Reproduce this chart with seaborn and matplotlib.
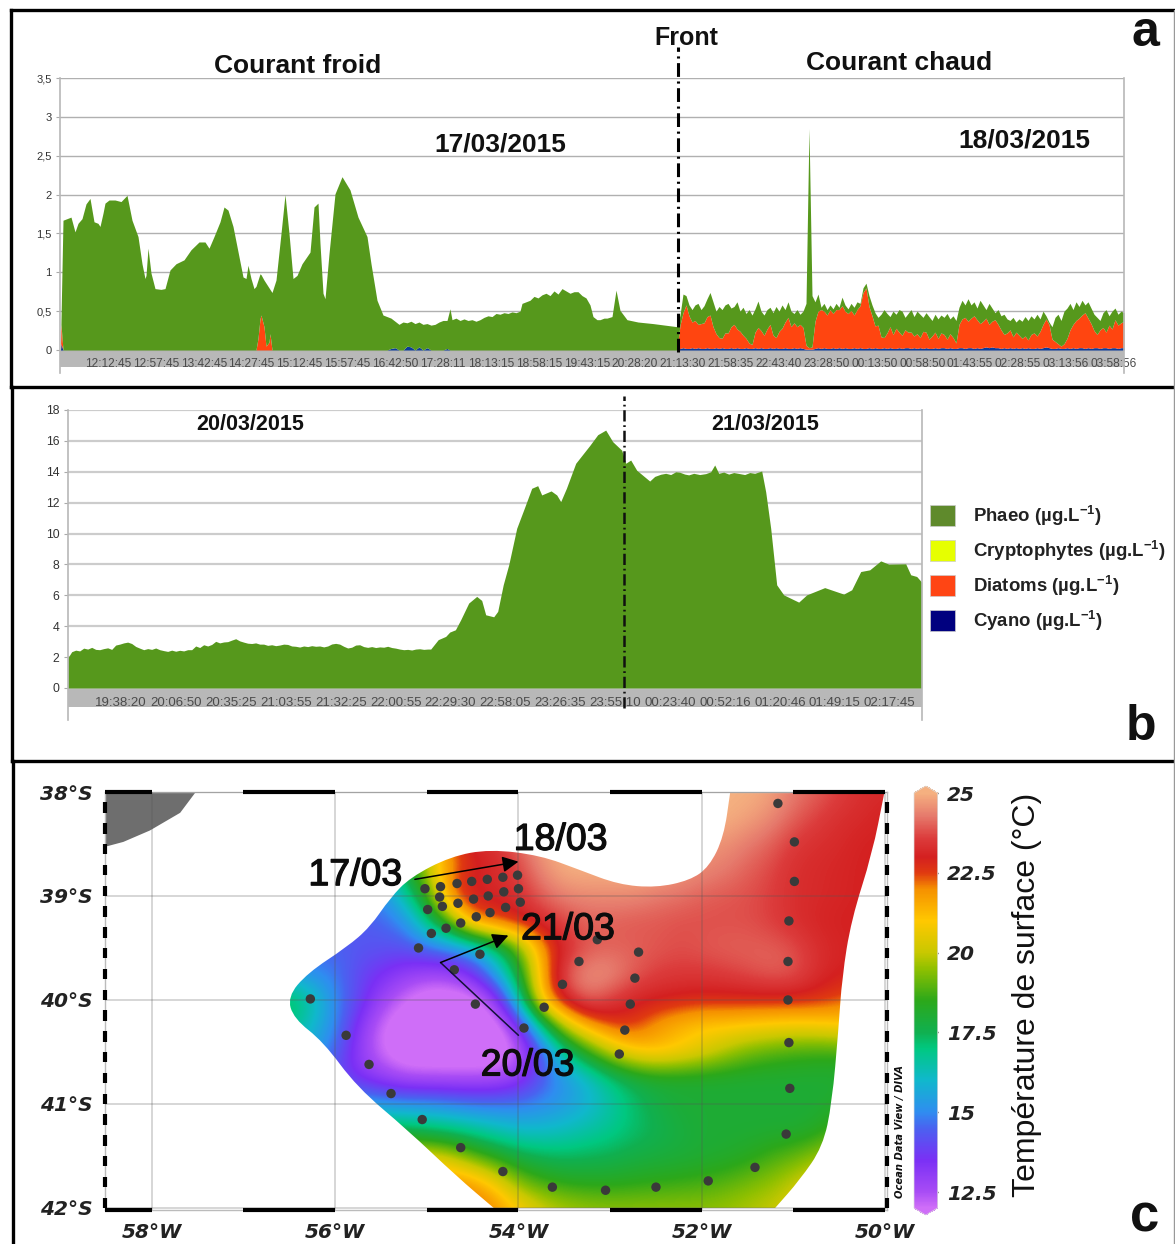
import numpy as np
import seaborn as sns
import matplotlib
matplotlib.use("Agg")
import matplotlib.pyplot as plt
import matplotlib.patheffects as pe
from matplotlib.colors import LinearSegmentedColormap, Normalize
from matplotlib.lines import Line2D
from matplotlib.patches import Patch, PathPatch, Polygon
from matplotlib.path import Path
import pandas as pd

# --- panel a : cold side (sample number, top of the stack)
cold_samples = [0.5, 1, 3, 7, 11, 15, 18, 22, 26, 30, 34, 38, 40, 43, 45, 49, 55, 61, 67, 72, 78, 82, 85, 86, 88, 91,
                95, 101, 105, 110, 116, 124, 131, 139, 145, 149, 154, 160, 164, 168, 173, 179, 183, 186, 188, 191,
                194, 196, 198, 200, 201, 204, 206, 209, 210, 212, 216, 221, 225, 229, 233, 237, 242, 250, 254, 258,
                260, 263, 265, 269, 275, 282, 290, 298, 307, 311, 317,
                323, 327, 331, 335, 339, 343, 347, 351, 355, 359, 363, 367, 371, 375, 379, 383, 387, 390, 392, 396,
                400, 404, 408, 412, 416, 420, 424, 428, 432, 436, 440, 444, 448, 452, 456, 460, 462, 466, 470, 474,
                478, 482, 486, 490, 494, 498, 502, 506, 510, 514, 518, 522, 526, 530, 533, 537, 540, 544, 547,
                552, 556, 560, 567, 578, 593, 605, 617]
cold_total = [0, 0.39, 1.67, 1.69, 1.71, 1.52, 1.63, 1.69, 1.88, 1.95, 1.65, 1.63, 1.59, 1.76, 1.89, 1.93, 1.93, 1.91,
              1.99, 1.67, 1.46, 1.11, 0.92, 0.96, 1.31, 0.99, 0.79, 0.78, 0.79, 1.03, 1.11, 1.16, 1.29, 1.39, 1.39,
              1.31, 1.46, 1.65, 1.84, 1.80, 1.59, 1.20, 0.94, 0.92, 1.09, 0.92, 0.79, 0.82, 0.90, 0.98, 0.97, 0.90,
              0.86, 0.80, 0.78, 0.74, 0.90, 1.50, 2.00, 1.50, 0.92, 0.96, 1.11, 1.26, 1.84, 1.89, 1.37, 0.73, 0.66,
              1.24, 2.01, 2.23, 2.06, 1.71, 1.46, 1.11, 0.64,
              0.45, 0.43, 0.41, 0.37, 0.33, 0.36, 0.35, 0.37, 0.34, 0.36, 0.33, 0.34, 0.32, 0.33, 0.36, 0.38, 0.38, 0.53,
              0.39, 0.41, 0.38, 0.40, 0.38, 0.39, 0.37, 0.39, 0.42, 0.44, 0.43, 0.47, 0.46, 0.48, 0.47, 0.49, 0.48, 0.50,
              0.60, 0.62, 0.64, 0.69, 0.67, 0.71, 0.73, 0.70, 0.76, 0.72, 0.79, 0.76, 0.73, 0.75, 0.75, 0.70, 0.67, 0.58,
              0.43, 0.39, 0.39, 0.41, 0.41,
              0.43, 0.77, 0.51, 0.39, 0.36, 0.34, 0.32, 0.30]
cold_diatom_samples = [1, 198, 200, 201, 204, 206, 209, 210]
cold_diatom_values = [0.25, 0.15, 0.40, 0.45, 0.30, 0.05, 0.10, 0.21]
cold_cyano_samples = [1, 331, 335, 347, 351, 359, 367, 387]
cold_cyano_values = [0.08, 0.02, 0.03, 0.05, 0.04, 0.04, 0.03, 0.02]

# --- panel a : warm side, one reading every 3 samples from sample 620
warm_total = [0.45, 0.72, 0.70, 0.58, 0.52, 0.58, 0.60, 0.52, 0.57, 0.66, 0.74, 0.62, 0.50, 0.56, 0.52, 0.58, 0.60,
              0.54, 0.56, 0.62, 0.50, 0.55, 0.47, 0.52, 0.45, 0.53, 0.63, 0.50, 0.45, 0.52, 0.55, 0.48, 0.56, 0.50,
              0.58, 0.52, 0.62, 0.50, 0.47, 0.52, 0.46, 0.50, 0.60, 2.85, 0.70, 0.62, 0.72, 0.55, 0.60, 0.52, 0.58,
              0.53, 0.60, 0.55, 0.68, 0.58, 0.53, 0.60, 0.55, 0.62, 0.60, 0.80, 0.86, 0.70, 0.58, 0.48, 0.42, 0.46,
              0.52, 0.47, 0.43, 0.50, 0.46, 0.52, 0.50, 0.42, 0.47, 0.52, 0.43, 0.50, 0.46, 0.42, 0.48, 0.43, 0.38,
              0.46, 0.40, 0.45, 0.42, 0.47, 0.40, 0.44, 0.38, 0.55, 0.64, 0.58, 0.66, 0.58, 0.62, 0.54, 0.64, 0.58,
              0.52, 0.60, 0.54, 0.48, 0.52, 0.44, 0.46, 0.40, 0.38, 0.42, 0.36, 0.40, 0.37, 0.43, 0.38, 0.44, 0.40,
              0.46, 0.40, 0.50, 0.44, 0.36, 0.30, 0.42, 0.46, 0.38, 0.50, 0.54, 0.60, 0.52, 0.62, 0.56, 0.64, 0.58,
              0.62, 0.54, 0.46, 0.42, 0.38, 0.48, 0.52, 0.44, 0.50, 0.54, 0.46, 0.50, 0.48]
warm_diatoms = [0.30, 0.45, 0.56, 0.42, 0.33, 0.36, 0.30, 0.32, 0.33, 0.40, 0.43, 0.28, 0.18, 0.14, 0.12, 0.20, 0.20,
                0.27, 0.31, 0.24, 0.22, 0.17, 0.12, 0.07, 0.05, 0.20, 0.27, 0.22, 0.17, 0.25, 0.30, 0.17, 0.13, 0.22,
                0.26, 0.33, 0.40, 0.28, 0.32, 0.28, 0.30, 0.27, 0.05, 0.02, 0.03, 0.35, 0.47, 0.50, 0.47, 0.43, 0.50,
                0.44, 0.50, 0.49, 0.55, 0.47, 0.45, 0.49, 0.42, 0.50, 0.54, 0.72, 0.78, 0.53, 0.42, 0.28, 0.30, 0.15,
                0.13, 0.20, 0.27, 0.18, 0.26, 0.20, 0.17, 0.23, 0.20, 0.21, 0.15, 0.19, 0.13, 0.22, 0.20, 0.12, 0.16,
                0.20, 0.13, 0.19, 0.17, 0.12, 0.18, 0.14, 0.07, 0.30, 0.37, 0.40, 0.34, 0.38, 0.42, 0.36, 0.32, 0.34,
                0.37, 0.30, 0.33, 0.36, 0.30, 0.24, 0.17, 0.20, 0.23, 0.15, 0.20, 0.17, 0.12, 0.16, 0.10, 0.18, 0.20,
                0.15, 0.22, 0.30, 0.36, 0.30, 0.12, 0.09, 0.05, 0.03, 0.06, 0.12, 0.24, 0.30, 0.36, 0.38, 0.42, 0.46,
                0.38, 0.32, 0.22, 0.17, 0.24, 0.26, 0.20, 0.30, 0.24, 0.36, 0.30, 0.32, 0.34]
warm_cyano = [0.02, 0.03, 0.02, 0.02, 0.03, 0.02, 0.03, 0.02, 0.02, 0.03, 0.02, 0.02, 0.03, 0.02, 0.03, 0.02, 0.02,
              0.03, 0.02, 0.03, 0.02, 0.02, 0.03, 0.02, 0.02, 0.03, 0.02, 0.03, 0.02, 0.02, 0.03, 0.02, 0.03, 0.02,
              0.02, 0.03, 0.02, 0.02, 0.03, 0.02, 0.03, 0.02, 0.01, 0.01, 0.01, 0.02, 0.03, 0.02, 0.03, 0.02, 0.02,
              0.03, 0.02, 0.03, 0.02, 0.03, 0.02, 0.02, 0.03, 0.02, 0.03, 0.02, 0.02, 0.03, 0.02, 0.03, 0.02, 0.02,
              0.03, 0.02, 0.03, 0.02, 0.02, 0.03, 0.02, 0.03, 0.03, 0.02, 0.03, 0.02, 0.03, 0.02, 0.03, 0.02, 0.02,
              0.03, 0.02, 0.03, 0.03, 0.02, 0.03, 0.02, 0.02, 0.03, 0.03, 0.02, 0.03, 0.03, 0.02, 0.03, 0.02, 0.03,
              0.04, 0.03, 0.04, 0.03, 0.03, 0.02, 0.03, 0.02, 0.03, 0.02, 0.03, 0.02, 0.03, 0.02, 0.03, 0.02, 0.02,
              0.03, 0.02, 0.03, 0.04, 0.03, 0.02, 0.02, 0.03, 0.02, 0.02, 0.03, 0.02, 0.03, 0.02, 0.03, 0.03, 0.02,
              0.03, 0.02, 0.03, 0.03, 0.02, 0.03, 0.03, 0.02, 0.03, 0.03, 0.02, 0.03, 0.03]
ticks_a = ["12:12:45", "12:57:45", "13:42:45", "14:27:45", "15:12:45", "15:57:45", "16:42:50", "17:28:11", "18:13:15",
           "18:58:15", "19:43:15", "20:28:20", "21:13:30", "21:58:35", "22:43:40", "23:28:50", "00:13:50", "00:58:50",
           "01:43:55", "02:28:55", "03:13:56", "03:58:56"]
yticks_a = [0, 0.5, 1, 1.5, 2, 2.5, 3, 3.5]
ylabels_a = ["0", "0,5", "1", "1,5", "2", "2,5", "3", "3,5"]

# --- panel b
b_samples = [0, 4, 8, 12, 16, 20, 24, 28, 32, 36, 40, 44, 48, 52, 56, 60, 64, 68, 72, 76, 80, 84, 88, 92, 96, 100, 104,
             108, 112, 116, 120, 124, 128, 132, 136, 140, 144, 148, 152, 156, 160, 164, 168, 172, 176, 180, 184, 188,
             192, 196, 200, 204, 208, 212, 216, 220, 224, 228, 232, 236, 240, 244, 248, 252, 256, 260, 264, 268, 272,
             276, 280, 284, 288, 292, 296, 300, 304, 308, 312, 316, 320, 324, 328, 332, 336, 340, 344, 348, 352, 356,
             360, 363, 370.5, 378, 382, 387.7, 393, 401, 409, 414, 418, 426, 430, 435.5, 441, 449, 456.6, 464, 470, 474,
             483.4, 489, 493, 498.7, 508, 522, 530, 538, 545, 554, 558, 563, 569, 582, 587, 593, 598, 603, 608, 612, 617,
             621, 626, 632, 638, 643, 647, 651, 656, 661, 666, 672, 677, 682, 687, 694, 698, 703, 709, 716, 731, 739,
             757, 776, 784, 793, 802, 813, 821, 838, 843, 849, 854]
b_phaeo = [1.94, 2.35, 2.45, 2.40, 2.58, 2.52, 2.63, 2.50, 2.48, 2.55, 2.60, 2.50, 2.78, 2.84, 2.92, 2.97, 2.88, 2.69,
           2.58, 2.48, 2.55, 2.50, 2.59, 2.48, 2.42, 2.37, 2.45, 2.38, 2.44, 2.40, 2.48, 2.48, 2.72, 2.62, 2.80, 2.72,
           2.82, 3.02, 2.92, 2.98, 3.00, 3.10, 3.19, 3.05, 2.97, 2.90, 2.88, 2.92, 2.84, 2.84, 2.76, 2.80, 2.74, 2.78,
           2.84, 2.82, 2.72, 2.70, 2.65, 2.72, 2.68, 2.74, 2.70, 2.72, 2.66, 2.72, 2.85, 2.89, 2.84, 2.70, 2.59, 2.64,
           2.78, 2.80, 2.68, 2.63, 2.68, 2.62, 2.66, 2.64, 2.70, 2.62, 2.58, 2.52, 2.48, 2.50, 2.46, 2.52, 2.54, 2.50,
           2.52, 2.52, 3.13, 3.34, 3.62, 3.77, 4.42, 5.50, 5.93, 5.67, 4.74, 4.61, 4.96, 6.68, 7.97, 10.34, 11.64, 12.93,
           13.10, 12.50, 12.76, 12.50, 12.07, 12.93, 14.55, 15.70, 16.40, 16.70, 15.95, 15.40, 14.55, 14.76, 14.10,
           13.40, 13.70, 13.84, 13.90, 13.82, 14.00, 13.97, 13.85, 13.80, 13.90, 13.82, 13.88, 14.00, 14.44, 13.90,
           13.98, 13.85, 13.95, 13.88, 13.82, 13.95, 13.90, 14.05, 12.70, 10.34, 6.68, 6.03, 5.56, 6.03, 6.50, 6.08,
           6.36, 7.54, 7.65, 8.23, 8.02, 8.04, 7.33, 7.22, 6.85]
ticks_b = ["19:38:20", "20:06:50", "20:35:25", "21:03:55", "21:32:25", "22:00:55", "22:29:30", "22:58:05", "23:26:35",
           "23:55:10", "00:23:40", "00:52:16", "01:20:46", "01:49:15", "02:17:45"]
yticks_b = [0, 2, 4, 6, 8, 10, 12, 14, 16, 18]

legend_labels = [r"Phaeo (µg.L$^{\mathbf{-1}}$)", r"Cryptophytes (µg.L$^{\mathbf{-1}}$)",
                 r"Diatoms (µg.L$^{\mathbf{-1}}$)", r"Cyano (µg.L$^{\mathbf{-1}}$)"]
legend_colors = ["#5f8a2c", "#e6ff00", "#ff4514", "#00007f"]

# --- panel c : surface temperature
lons = [-56.5 + 0.25 * i for i in range(27)]
lats = [-38 - 0.25 * i for i in range(17)]
temperature = [
    [25] * 18 + [25, 25, 25, 24.8, 24.3, 24, 23.6, 23.3, 23.2],
    [25] * 18 + [25, 25, 24.8, 24.5, 24, 23.6, 23.3, 23.2, 23],
    [18] * 6 + [20, 22, 23, 23.2, 24, 24.8, 25, 25, 25, 25, 25, 25, 24.6, 24.6, 24.3, 24, 23.5, 23.3, 23.2, 23, 23],
    [16] * 5 + [17.5, 20, 22, 23, 23.2, 23.7, 24.5, 25, 25, 25, 25, 24.9, 24.7, 24.5, 24.3, 24, 23.7, 23.3, 23.2, 23.1, 23, 23],
    [14, 14.5, 14.8, 14.8, 15, 16.5, 18.5, 22.3, 23.1, 23.1, 23.3, 24, 24.4, 24.5, 24.5, 24.5, 24.3, 24.2, 24, 23.9, 23.8, 23.6, 23.3, 23.2, 23.1, 23, 23],
    [14, 14, 14.2, 14.3, 14.5, 15, 17, 19, 22, 22.6, 23, 23.3, 23.7, 24, 24, 23.9, 23.9, 23.8, 23.8, 23.8, 23.8, 23.6, 23.3, 23.1, 23, 23, 23],
    [14.5, 14.5, 14.5, 14.3, 14.2, 14.2, 14.6, 15, 15.5, 17, 19, 21.8, 23.2, 23.9, 24, 24, 23.9, 23.8, 23.9, 24, 24, 24, 23.8, 23.3, 23.1, 23, 23],
    [15.5, 15, 14.8, 14, 13.5, 13, 12.7, 12.7, 13.6, 15.5, 18, 21.5, 24, 24.6, 24.6, 24, 23.6, 23.5, 23.5, 23.6, 23.8, 24, 23.9, 23.3, 23, 23, 23],
    [17.5, 16.5, 15, 14, 12.8, 12, 11.5, 11.5, 11.5, 12.8, 16.5, 21.5, 23.3, 24.2, 23.6, 23.1, 23, 22.9, 22.8, 22.8, 22.8, 22.8, 22.8, 22.7, 22.4, 22, 22],
    [17, 16, 15, 13.3, 12, 11.5, 11.5, 11.5, 11.5, 11.5, 13.2, 17, 20, 21.6, 22.5, 22.6, 21.8, 21.3, 21, 21, 20.9, 20.8, 20.7, 20.8, 21, 21.2, 21],
    [16, 15.5, 14.5, 13, 12, 11.5, 11.5, 11.5, 11.5, 11.5, 12, 14.3, 16.8, 18.5, 20, 21, 21.3, 21, 20.5, 19.8, 19.2, 18.9, 18.7, 18.6, 18.6, 18.8, 19],
    [15, 14.5, 14, 13.4, 12.9, 12.4, 12.3, 12.3, 12.3, 12.4, 13, 14.3, 15.2, 16, 17, 17.7, 18, 18, 18, 18, 18, 18, 18, 18, 18, 18, 18],
    [15.5, 15.5, 15.5, 15.5, 15.3, 15.2, 15.2, 15, 14.8, 14.8, 14.8, 15, 15.3, 15.8, 16.5, 17.2, 17.7, 18, 18, 18, 18, 18, 18, 18, 18.2, 18.5, 19],
    [17.5] * 5 + [17.5, 17.2, 17, 16.7, 16.3, 16, 16, 16.2, 16.5, 16.8, 17.2, 17.5, 17.8, 18, 18, 18, 18, 18, 18.2, 18.8, 19, 19.5],
    [20.5] * 6 + [20.5, 20, 19, 18.3, 17.7, 17.4, 17.3, 17.4, 17.5, 17.7, 17.8, 17.9, 18, 18.1, 18.3, 18.7, 19, 19.5, 20, 20, 20],
    [22] * 6 + [22, 22, 21.7, 20.7, 19.3, 18.7, 18.4, 18.3, 18.3, 18.4, 18.5, 18.6, 18.7, 18.9, 19.2, 19.5, 20, 20.5, 20.5, 20.5, 20.5],
    [22.5] * 8 + [22.5, 22, 21, 20.2, 19.8, 19.6, 19.5, 19.5, 19.5, 19.5, 19.5, 19.6, 19.8, 20, 20.3, 20.5, 20.5, 20.5, 20.5],
]
field_lon = [-51.69, -51.76, -51.92, -52.13, -52.50, -52.91, -53.33, -53.76, -54.31, -54.74, -55.18, -55.40, -55.62,
             -55.87, -56.30, -56.52, -56.45, -56.13, -55.76, -55.21, -54.67, -54.27, -51.20, -50.93, -50.68, -50.58,
             -50.51, -50.47, -50.37, -50.14, -50.01]
field_lat = [-38, -38.43, -38.72, -38.85, -38.92, -38.89, -38.75, -38.61, -38.55, -38.62, -38.82, -39.02, -39.30, -39.49,
             -39.74, -39.97, -40.18, -40.40, -40.84, -41.25, -41.70, -42, -42, -41.73, -41.41, -40.99, -40.29, -39.78,
             -39.23, -38.59, -38.01]
field_corners = [0, 21, 22, 30]
land_lon = [-58.51, -57.52, -57.69, -58.02, -58.31, -58.48, -58.51]
land_lat = [-38, -38, -38.20, -38.37, -38.48, -38.52, -38.52]
station_lon = [-55.02, -54.85, -54.67, -54.51, -54.34, -54.17, -54.01, -54.00, -54.16, -54.33, -54.49, -54.66, -54.83,
               -54.86, -54.99, -53.98, -54.14, -54.31, -54.46, -54.63, -54.79, -54.95, -55.09, -54.42, -54.70, -54.47,
               -53.94, -53.72, -53.52, -53.34, -53.14, -52.69, -52.73, -52.78, -52.84, -52.90, -56.27, -55.88, -55.63,
               -55.39, -55.05, -54.63, -54.17, -53.63, -53.05, -52.50, -51.93, -51.42, -51.08, -51.04, -51.05, -51.06,
               -51.06, -51.05, -50.99, -50.99, -51.17]
station_lat = [-38.93, -38.91, -38.88, -38.86, -38.84, -38.82, -38.80, -38.93, -38.96, -39.00, -39.03, -39.07, -39.10,
               -39.01, -39.13, -39.06, -39.11, -39.16, -39.20, -39.26, -39.31, -39.36, -39.50, -39.56, -39.71, -40.04,
               -40.27, -40.07, -39.85, -39.63, -39.42, -39.54, -39.79, -40.04, -40.29, -40.52, -39.99, -40.34, -40.62,
               -40.90, -41.15, -41.42, -41.65, -41.80, -41.83, -41.80, -41.74, -41.61, -41.29, -40.85, -40.41, -40.00,
               -39.63, -39.24, -38.86, -38.48, -38.11]
sst_levels = [12, 12.5, 13.5, 14.5, 15, 16, 17, 17.5, 18.5, 19.5, 20, 21, 22, 22.5, 23, 23.6, 24.3, 25]
sst_colors = ["#cf6ef8", "#a84cf5", "#7a30f5", "#4a62f0", "#2f8df0", "#10b8cc", "#00c880", "#10b050", "#2ca81a",
              "#90c000", "#c8c800", "#ffc800", "#f59000", "#e03a10", "#d42020", "#dc3c3c", "#e67a6c", "#f5b080"]

W, H = 1175, 1244
GREEN, RED, BLUE = "#56981c", "#ff4510", "#0a3a9a"

sns.set_theme(style="white")
plt.rcParams["font.family"] = ["Liberation Sans", "DejaVu Sans"]
plt.rcParams["mathtext.fontset"] = "custom"
plt.rcParams["mathtext.rm"] = "Liberation Sans"
plt.rcParams["mathtext.bf"] = "Liberation Sans:bold"

fig = plt.figure(figsize=(W / 100, H / 100), dpi=100, facecolor="white")


def px_axes(left, top, right, bottom):
    return fig.add_axes([left / W, 1 - bottom / H, (right - left) / W, (bottom - top) / H])


def px_text(x, y, s, **kw):
    kw.setdefault("ha", "center")
    kw.setdefault("va", "center")
    kw.setdefault("color", "#111111")
    return fig.text(x / W, 1 - y / H, s, **kw)


def chart_style(ax, yticks, ylabels, ticks, first, step, band, grid_color, grid_lw, tick_size, label_size, pad):
    ax.set_yticks(yticks)
    ax.set_yticklabels(ylabels, fontsize=tick_size, color="#333333")
    ax.set_xticks([first + step * i for i in range(len(ticks))])
    ax.set_xticklabels(ticks, fontsize=label_size, color="#4a4a4a")
    ax.tick_params(axis="x", length=0, pad=pad)
    ax.tick_params(axis="y", length=3, width=0.8, color="#aaaaaa", pad=3, left=True)
    ax.grid(axis="y", color=grid_color, lw=grid_lw)
    ax.grid(axis="x", visible=False)
    ax.set_axisbelow(True)
    ax.axhspan(band, 0, color="#b8b8b8", lw=0, zorder=0.4)
    for name in ["top", "bottom"]:
        ax.spines[name].set_visible(False)
    for name in ["left", "right"]:
        ax.spines[name].set_color("#b8b8b8")
        ax.spines[name].set_linewidth(1.2)


# panel a
cold_x = np.array(cold_samples, dtype=float)
cold_top = np.array(cold_total)
cold_diatoms = np.zeros_like(cold_top)
cold_cyano = np.zeros_like(cold_top)
for s, v in zip(cold_diatom_samples, cold_diatom_values):
    cold_diatoms[cold_samples.index(s)] = v
for s, v in zip(cold_cyano_samples, cold_cyano_values):
    cold_cyano[cold_samples.index(s)] = v
warm_x = np.arange(620, 1065, 3, dtype=float)

x_a = np.concatenate([cold_x, warm_x])
top_a = np.concatenate([cold_top, warm_total])
dia_a = np.concatenate([cold_diatoms, warm_diatoms])
cya_a = np.concatenate([cold_cyano, warm_cyano])

ax_a = px_axes(60, 78, 1124, 373)
ax_a.stackplot(x_a, cya_a, dia_a, np.clip(top_a - dia_a - cya_a, 0, None), colors=[BLUE, RED, GREEN], lw=0, zorder=2)
ax_a.set_xlim(0, 1064)
ax_a.set_ylim(-23 / 77.7, 3.5)
chart_style(ax_a, yticks_a, ylabels_a, ticks_a, 47.9, 47.9, -0.22, "#b0b0b0", 1.0, 8, 8.6, -11)
ax_a.axvline(618, ymin=0.07, ymax=1.105, color="black", lw=2.2, ls=(0, (4.5, 1.5, 0.7, 1.5)), clip_on=False, zorder=5)

px_text(298, 66, "Courant froid", fontsize=19, fontweight="bold")
px_text(899, 63, "Courant chaud", fontsize=19, fontweight="bold")
px_text(686, 38, "Front", fontsize=18, fontweight="bold")
px_text(500, 145, "17/03/2015", fontsize=19, fontweight="bold")
px_text(1024, 140, "18/03/2015", fontsize=19, fontweight="bold")
px_text(1145, 33, "a", fontsize=36, fontweight="bold")

# panel b
ax_b = px_axes(67.7, 410, 922, 720)
ax_b.stackplot(b_samples, b_phaeo, colors=[GREEN], lw=0, zorder=2)
ax_b.set_xlim(0, 854.3)
ax_b.set_ylim(-32 / 15.44, 18)
chart_style(ax_b, yticks_b, [str(v) for v in yticks_b], ticks_b, 53.4, 54.9, -1.23, "#cccccc", 1.6, 8.8, 9.5, -16.5)
ax_b.axvline(556.5, ymin=0.04, ymax=1.045, color="#101010", lw=1.8, ls=(0, (4.5, 1.5, 0.7, 1.5)), clip_on=False, zorder=5)

px_text(250, 425, "20/03/2015", fontsize=15.5, fontweight="bold")
px_text(765, 425, "21/03/2015", fontsize=15.5, fontweight="bold")
px_text(1141, 727, "b", fontsize=36, fontweight="bold")

handles = [Patch(facecolor=c, edgecolor="#cccccc", lw=0.5) for c in legend_colors]
fig.legend(handles, legend_labels, loc="upper left", bbox_to_anchor=(930 / W, 1 - 503 / H), frameon=False,
           borderpad=0, borderaxespad=0, handlelength=1.33, handleheight=1.35, handletextpad=0.96, labelspacing=0.55,
           prop={"size": 13.4, "weight": "bold"}, labelcolor="#222222")

# panel c
ax_c = px_axes(105, 792, 887, 1210)
sst_cmap = LinearSegmentedColormap.from_list(
    "odv", [((t - 12) / 13, c) for t, c in zip(sst_levels, sst_colors)], N=512)
sst_cmap.set_over(sst_colors[-1])
sst_cmap.set_under(sst_colors[0])
sst_norm = Normalize(12, 25)

field = ax_c.imshow(np.array(temperature, dtype=float), cmap=sst_cmap, norm=sst_norm, aspect="auto", origin="upper",
                    extent=[lons[0] - 0.125, lons[-1] + 0.125, lats[-1] - 0.125, lats[0] + 0.125],
                    interpolation="bicubic", zorder=1)

# rounded outline of the gridded field, corners on the frame stay sharp
pts = np.column_stack([field_lon, field_lat])
pts = np.repeat(pts, [2 if i in field_corners else 1 for i in range(len(pts))], axis=0)
mids = (pts + np.roll(pts, -1, axis=0)) / 2
verts = [mids[-1]]
codes = [Path.MOVETO]
for p, m in zip(pts, mids):
    verts += [p, m]
    codes += [Path.CURVE3, Path.CURVE3]
outline = PathPatch(Path(verts, codes), transform=ax_c.transData, facecolor="none", edgecolor="none")
ax_c.add_patch(outline)
field.set_clip_path(outline)
ax_c.add_patch(Polygon(np.column_stack([land_lon, land_lat]), facecolor="#6e6e6e", edgecolor="none", zorder=1))

stations = pd.DataFrame({"lon": station_lon, "lat": station_lat})
sns.scatterplot(data=stations, x="lon", y="lat", ax=ax_c, color="#3a3a3a", s=46, edgecolor="none", zorder=4)

ax_c.set_xlim(-58.51, -49.98)
ax_c.set_ylim(-42.02, -38)
ax_c.set_xlabel("")
ax_c.set_ylabel("")
ax_c.set_xticks([-58, -56, -54, -52, -50])
ax_c.set_yticks([-42, -41, -40, -39, -38])
label_font = {"family": "DejaVu Sans", "weight": "bold", "style": "italic", "size": 14.5, "color": "#222222"}
ax_c.set_xticklabels(["58°W", "56°W", "54°W", "52°W", "50°W"], **label_font)
ax_c.set_yticklabels(["42°S", "41°S", "40°S", "39°S", "38°S"], **label_font)
ax_c.tick_params(axis="both", which="both", length=0, pad=9)
ax_c.grid(axis="both", which="major", color="#555555", alpha=0.3, lw=1.1)
ax_c.set_axisbelow(False)
for spine in ax_c.spines.values():
    spine.set_color("#bbbbbb")
    spine.set_linewidth(1)

# ODV frame: black bars one degree long on top and bottom, short dashes on the sides
for lon0 in [-58.51, -57, -55, -53, -51]:
    lon1 = -58 if lon0 < -58 else lon0 + 1
    for lat0 in [-38, -42.02]:
        ax_c.plot([lon0, lon1], [lat0, lat0], color="black", lw=3, solid_capstyle="butt", clip_on=False, zorder=6)
for lon0 in [-58.51, -49.98]:
    for lat0 in np.arange(-42, -38, 0.2):
        ax_c.plot([lon0, lon0], [lat0, lat0 + 0.1], color="black", lw=3, solid_capstyle="butt", clip_on=False, zorder=6)

ax_c.annotate("", xy=(-54.0, -38.67), xytext=(-55.13, -38.84),
              arrowprops=dict(arrowstyle="-|>", color="black", lw=1.1, mutation_scale=24, shrinkA=0, shrinkB=0), zorder=7)
ax_c.plot([-54, -54.85], [-40.34, -39.64], color="#14103a", lw=1.1, zorder=7)
ax_c.annotate("", xy=(-54.11, -39.38), xytext=(-54.85, -39.64),
              arrowprops=dict(arrowstyle="-|>", color="black", lw=1.1, mutation_scale=24, shrinkA=0, shrinkB=0), zorder=7)
for lon0, lat0, s in [(-55.78, -38.80, "17/03"), (-53.54, -38.46, "18/03"), (-53.46, -39.32, "21/03"), (-53.90, -40.63, "20/03")]:
    ax_c.text(lon0, lat0, s, fontsize=27, ha="center", va="center", color="#0c0c0c", zorder=8,
              path_effects=[pe.withStroke(linewidth=0.9, foreground="#0c0c0c")])

cax = px_axes(914, 786, 937.5, 1215)
cbar = fig.colorbar(field, cax=cax, extend="both", extendfrac=0.0169, ticks=[12.5, 15, 17.5, 20, 22.5, 25])
cbar.ax.set_yticklabels(["12.5", "15", "17.5", "20", "22.5", "25"], **label_font)
cbar.ax.tick_params(axis="y", which="major", direction="in", length=4, width=1, color="#333333", left=True, right=True, pad=7)
cbar.outline.set_edgecolor("#dddddd")
cbar.outline.set_linewidth(0.5)

px_text(1027, 995, "Température de surface (°C)", fontsize=23, rotation=90)
px_text(900, 1131, "Ocean Data View / DIVA", rotation=90, family="DejaVu Sans", fontweight="bold", style="italic", fontsize=7.2)
px_text(1145, 1217, "c", fontsize=38, fontweight="bold")

# panel frames
for x0, y0, x1, y1 in [(11, 10, 1174, 10), (11, 10, 11, 387), (11, 387, 1174, 387), (12, 387, 12, 761), (12, 761, 1174, 761),
                       (13, 761, 13, 1244)]:
    fig.add_artist(Line2D([x0 / W, x1 / W], [1 - y0 / H, 1 - y1 / H], color="black", lw=2.4, solid_capstyle="projecting"))
fig.add_artist(Line2D([1174 / W, 1174 / W], [1 - 10 / H, 0], color="#999999", lw=1))

fig.savefig("out.png", dpi=100)
